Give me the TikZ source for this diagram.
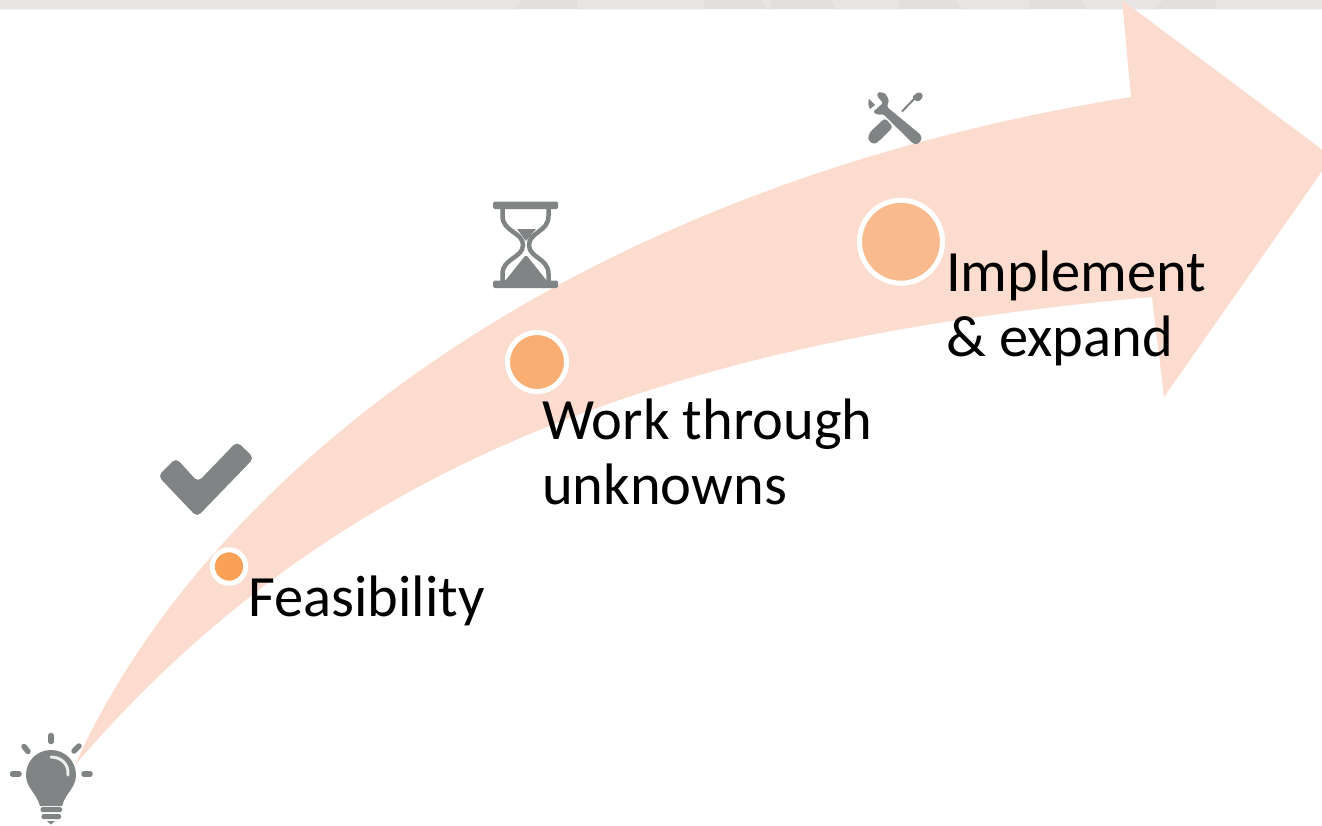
\documentclass[tikz,border=0pt]{standalone}
\usepackage{fontspec}
\setmainfont{Carlito}
\definecolor{band}{HTML}{FDDCD0}
\definecolor{icon}{HTML}{808484}
\definecolor{topbar}{HTML}{E7E6E5}
\definecolor{topdark}{HTML}{E1E0DF}
\definecolor{dotA}{HTML}{F9A257}
\definecolor{dotB}{HTML}{F9AE74}
\definecolor{dotC}{HTML}{F9BB8E}
\tikzset{
  label text/.style={font=\fontsize{58.5}{65}\selectfont, text=black, anchor=north west, inner sep=0pt, align=left},
  dot/.style={circle, draw=white, line width=5pt, inner sep=0pt, outer sep=0pt},
  ray/.style={draw=icon, line width=5.5pt, line cap=round},
  patch/.style={fill=topdark},
}
\begin{document}
\begin{tikzpicture}[x=1pt,y=-1pt]
\useasboundingbox (0,0) rectangle (1322,825);
\fill[white] (0,0) rectangle (1322,825);
% top bar
\fill[topbar] (0,0) rectangle (1322,9);
\fill[patch] (514,9) -- (522,0) -- (577,0) -- (577,9) -- cycle;
\fill[patch] (704,9) -- (704,0) -- (762,0) -- (767,9) -- cycle;
\fill[patch] (771,9) -- (771,0) -- (830,0) -- (835,9) -- cycle;
\fill[patch] (898,9) -- (898,0) -- (956,0) -- (961,9) -- cycle;
\fill[patch] (1029,9) -- (1029,0) -- (1082,0) -- (1088,9) -- cycle;
\fill[patch] (1154,9) -- (1163,0) -- (1216,0) -- (1216,9) -- cycle;
\fill[white!96!black] (0,9) rectangle (1322,10);
% swoosh arrow
\begin{scope}
\clip (0,0) rectangle (1322,825);
\fill[band] (75,765)
  .. controls (198,490) and (550,190) .. (1131,97)
  -- (1122,0) -- (1332,157) -- (1164,397) -- (1152,297)
  .. controls (640,342) and (320,480) .. (75,765) -- cycle;
\end{scope}
% dots
\node[dot, fill=dotA, minimum size=33.5pt] (d1) at (229,566.5) {};
\node[dot, fill=dotB, minimum size=59pt] (d2) at (537,362) {};
\node[dot, fill=dotC, minimum size=83pt] (d3) at (901,241.7) {};
% labels
\node[label text] (t1) at (248,576) {Feasibility};
\node[label text] (t2) at (542,398.5) {Work through\\unknowns};
\node[label text] (t3) at (946,251) {Implement\\\& expand};
% check mark
\fill[icon, rounded corners=5pt] (158,476) -- (176,458) -- (198,482) -- (237,441.5) -- (254,458) -- (197,517) -- cycle;
% hourglass
\fill[icon, rounded corners=1.5pt] (493,201.5) rectangle (558,209);
\fill[icon, rounded corners=1.5pt] (493,280.5) rectangle (558,288);
\draw[icon, line width=4.5pt] (502.5,208) -- (502.5,216) .. controls (502.5,232) and (523,232) .. (523,245) .. controls (523,258) and (502.5,258) .. (502.5,274) -- (502.5,281);
\draw[icon, line width=4.5pt] (548.5,208) -- (548.5,216) .. controls (548.5,232) and (529,232) .. (529,245) .. controls (529,258) and (548.5,258) .. (548.5,274) -- (548.5,281);
\fill[icon] (517,229) -- (536,229) -- (526,241) -- cycle;
\fill[icon] (505,281) -- (525,256) -- (527,256) -- (547,281) -- cycle;
% tools
\fill[icon, rounded corners=1.5pt] (878,92) -- (885,93) -- (889,100) -- (887,107) -- (921,135) -- (921.5,140) -- (917,144.5) -- (913,143.5) -- (883,114) -- (878,115) -- (873,112) -- (883,103) -- (877,96) -- cycle;
\fill[icon] (869,99) -- (875,105) -- (870,109) .. controls (868,106) and (868,102) .. (869,99) -- cycle;
\fill[icon, rounded corners=3pt] (885,118) -- (893,127) -- (878,142) -- (873,144.5) -- (867.5,139) -- (870,132) -- cycle;
\draw[icon, line width=2pt] (902,111.5) -- (915,98);
\fill[icon, rounded corners=1.5pt] (912,97) -- (918,92) -- (923,94) -- (922,99) -- (917,102) -- cycle;
% bulb
\fill[icon] (51,750) .. controls (65,750) and (76,761) .. (76,775)
  .. controls (76,788) and (66,792) .. (62,806) -- (40,806)
  .. controls (36,792) and (26,788) .. (26,775)
  .. controls (26,761) and (37,750) .. (51,750) -- cycle;
\draw[white!85!icon, line width=3pt, line cap=round] (51,757) .. controls (61,757) and (69,764) .. (68,775);
\draw[ray] (51,735.5) -- (51,741.5);
\draw[ray] (24,746.5) -- (28,751.5);
\draw[ray] (79,746) -- (74,751);
\draw[ray] (12.5,774) -- (19,774);
\draw[ray] (84,774) -- (90,774);
\fill[icon, rounded corners=1.5pt] (40.5,807) rectangle (62,812);
\fill[icon, rounded corners=1.5pt] (41.5,814) rectangle (61,819);
\fill[icon] (47,821) -- (55,821) -- (51,824.5) -- cycle;
\end{tikzpicture}
\end{document}
